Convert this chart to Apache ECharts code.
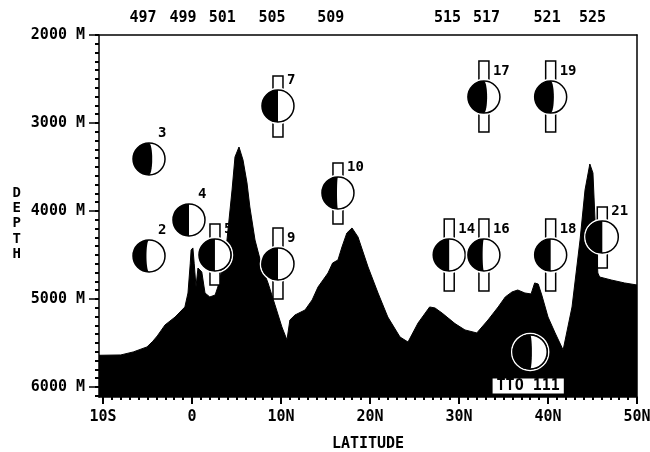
<!DOCTYPE html>
<html>
<head>
<meta charset="utf-8">
<script src="https://cdn.jsdelivr.net/npm/echarts@6/dist/echarts.min.js"></script>
<style>
html, body { margin: 0; padding: 0; background: #fff; }
#chart { width: 650px; height: 452px; }
</style>
</head>
<body>
<div id="chart"></div>
<script>
// bathymetry profile (latitude, depth in m)
var profileLat = [-10.45, -8.0, -6.6, -5.06, -4.4, -3.9, -3.03, -1.9, -0.8, -0.45, -0.2, -0.1, 0.1, 0.25, 0.45, 0.67, 1.1, 1.46, 2.0, 2.6, 2.9, 3.3, 3.93, 4.5, 4.83, 5.28, 5.73, 6.18, 6.5, 7.08, 7.87, 8.54, 9.3, 10.1, 10.67, 11.0, 11.57, 12.7, 13.5, 14.16, 15.28, 15.8, 16.4, 16.85, 17.4, 17.98, 18.65, 19.78, 20.9, 22.0, 23.37, 24.27, 25.4, 26.7, 27.3, 28.1, 29.55, 30.67, 32.0, 33.26, 34.4, 35.2, 35.96, 36.6, 37.4, 38.1, 38.5, 38.9, 39.3, 40.0, 40.8, 41.7, 42.7, 43.6, 44.16, 44.7, 45.05, 45.3, 45.6, 45.8, 47.1, 48.6, 50];
var profileDepth = [5640, 5636, 5602, 5545, 5480, 5420, 5295, 5205, 5091, 4932, 4600, 4443, 4420, 4600, 4864, 4648, 4693, 4932, 4977, 4955, 4864, 4700, 4330, 3761, 3386, 3273, 3420, 3682, 3955, 4330, 4636, 4818, 5060, 5318, 5466, 5239, 5182, 5125, 5011, 4864, 4705, 4591, 4557, 4409, 4250, 4193, 4295, 4636, 4932, 5205, 5432, 5489, 5273, 5091, 5102, 5160, 5280, 5352, 5386, 5239, 5091, 4977, 4920, 4898, 4932, 4943, 4818, 4830, 4955, 5205, 5386, 5580, 5091, 4330, 3761, 3466, 3568, 4136, 4705, 4750, 4784, 4818, 4841];

// station numbers along the top
var stationLat = [-5.5, -1.0, 3.4, 9.0, 15.6, 28.7, 33.1, 39.9, 45.0];
var stationName = ['497', '499', '501', '505', '509', '515', '517', '521', '525'];

// samples: circle at depth, black fraction, vertical bar range
var sampleName = ['2', '3', '4', '5', '7', '9', '10', '14', '16', '17', '18', '19', '21'];
var sampleLat = [-4.83, -4.83, -0.34, 2.58, 9.66, 9.66, 16.4, 28.9, 32.8, 32.8, 40.3, 40.3, 46.1];
var sampleDepth = [4511, 3409, 4102, 4500, 2807, 4602, 3795, 4500, 4500, 2705, 4500, 2705, 4295];
var sampleBlack = [0.42, 0.6, 0.5, 0.5, 0.5, 0.5, 0.47, 0.5, 0.46, 0.6, 0.5, 0.6, 0.5];
var barTop = [null, null, null, 4148, 2466, 4193, 3455, 4091, 4091, 2295, 4091, 2295, 3955];
var barBottom = [null, null, null, 4841, 3159, 5000, 4148, 4909, 4909, 3102, 4909, 3102, 4648];

// TTO 111 reference point
var ttoName = 'TTO 111';
var ttoLat = 38.0;
var ttoDepth = 5602;
var ttoBlack = 0.55;

// axis ticks
var latTicks = [-10, 0, 10, 20, 30, 40, 50];
var latLabels = ['10S', '0', '10N', '20N', '30N', '40N', '50N'];
var depthTicks = [2000, 3000, 4000, 5000, 6000];

var FONT = "'DejaVu Sans Mono', monospace";

var latMinor = [];
for (var d = -10; d <= 50; d++) latMinor.push(d);
var depthMinor = [];
for (var m = 2000; m <= 6100; m += 100) depthMinor.push(m);

function moonPoints(cx, cy, r, f) {
    // left side black, terminator an ellipse half
    var k = 2 * f - 1;
    var pts = [];
    var n = 40;
    for (var j = 0; j <= n; j++) {
        var a = -Math.PI / 2 - Math.PI * j / n;
        pts.push([cx + r * Math.cos(a), cy + r * Math.sin(a)]);
    }
    for (var j2 = 0; j2 <= n; j2++) {
        var b = Math.PI / 2 - Math.PI * j2 / n;
        pts.push([cx + k * r * Math.cos(b), cy + r * Math.sin(b)]);
    }
    return pts;
}

function moonShapes(cx, cy, r, f) {
    return [
        { type: 'circle', shape: { cx: cx, cy: cy, r: r + 1.5 }, style: { fill: 'none', stroke: '#fff', lineWidth: 1.5 } },
        { type: 'circle', shape: { cx: cx, cy: cy, r: r }, style: { fill: '#fff' } },
        { type: 'polygon', shape: { points: moonPoints(cx, cy, r, f) }, style: { fill: '#000' } },
        { type: 'circle', shape: { cx: cx, cy: cy, r: r }, style: { fill: 'none', stroke: '#000', lineWidth: 1.5 } }
    ];
}

function renderSample(params, api) {
    var i = api.value(2);
    var c = api.coord([api.value(0), api.value(1)]);
    var r = 16;
    var kids = [];
    if (barTop[i] != null) {
        var t = api.coord([api.value(0), barTop[i]]);
        var b = api.coord([api.value(0), barBottom[i]]);
        kids.push({
            type: 'rect',
            shape: { x: c[0] - 5, y: t[1], width: 10, height: b[1] - t[1] },
            style: { fill: '#fff', stroke: '#000', lineWidth: 1.5 }
        });
    }
    kids = kids.concat(moonShapes(c[0], c[1], r, sampleBlack[i]));
    kids.push({
        type: 'text',
        x: c[0] + 9,
        y: c[1] - 26,
        style: {
            text: sampleName[i],
            fill: '#000',
            font: 'bold 14px ' + FONT,
            align: 'left',
            verticalAlign: 'middle'
        }
    });
    return { type: 'group', children: kids };
}

function renderTto(params, api) {
    var c = api.coord([api.value(0), api.value(1)]);
    var kids = moonShapes(c[0], c[1], 17, ttoBlack);
    kids.push({
        type: 'text',
        x: c[0] - 2,
        y: c[1] + 34,
        style: {
            text: ttoName,
            fill: '#000',
            font: 'bold 15px ' + FONT,
            align: 'center',
            verticalAlign: 'middle',
            backgroundColor: '#fff',
            padding: [0, 4, 0, 4]
        }
    });
    return { type: 'group', children: kids };
}

var profileData = profileLat.map(function (v, i) { return [v, profileDepth[i]]; });
var sampleData = sampleLat.map(function (v, i) { return [v, sampleDepth[i], i]; });

var chart = echarts.init(document.getElementById('chart'));
var axisLine = { show: true, onZero: false, lineStyle: { color: '#000', width: 1.5 } };
var noLine = { show: false, onZero: false };
var labelStyle = { color: '#000', fontFamily: FONT, fontSize: 15, fontWeight: 'bold' };

var option = {
    animation: false,
    backgroundColor: '#fff',
    grid: { left: 99, right: 13, top: 35, bottom: 55, containLabel: false, outerBoundsMode: 'none' },
    xAxis: [
        {
            type: 'value', position: 'bottom', min: -10.45, max: 50,
            axisLine: axisLine,
            splitLine: { show: false },
            axisTick: { show: true, customValues: latTicks, length: 7, lineStyle: { color: '#000', width: 2 } },
            axisLabel: Object.assign({
                customValues: latTicks, margin: 13,
                formatter: function (v) { return latLabels[latTicks.indexOf(v)]; }
            }, labelStyle),
            name: 'LATITUDE', nameLocation: 'middle', nameGap: 40,
            nameTextStyle: labelStyle
        },
        {
            type: 'value', position: 'bottom', min: -10.45, max: 50,
            axisLine: noLine,
            splitLine: { show: false },
            axisTick: { show: true, customValues: latMinor, length: 3, lineStyle: { color: '#000', width: 2 } },
            axisLabel: { show: false }
        },
        {
            type: 'value', position: 'top', min: -10.45, max: 50,
            axisLine: axisLine,
            splitLine: { show: false },
            axisTick: { show: false },
            axisLabel: Object.assign({
                customValues: stationLat, margin: 9,
                formatter: function (v) { return stationName[stationLat.indexOf(v)]; }
            }, labelStyle)
        }
    ],
    yAxis: [
        {
            type: 'value', position: 'left', inverse: true, min: 2000, max: 6114,
            axisLine: axisLine,
            splitLine: { show: false },
            axisTick: { show: true, customValues: depthTicks, length: 10, lineStyle: { color: '#000', width: 1.5 } },
            axisLabel: Object.assign({
                customValues: depthTicks, margin: 14,
                formatter: function (v) { return v + ' M'; }
            }, labelStyle),
            name: '\nD\nE\nP\nT\nH', nameLocation: 'middle', nameRotate: 0, nameGap: 78,
            nameTextStyle: { color: '#000', fontFamily: FONT, fontWeight: 'bold', fontSize: 14, lineHeight: 15.4 }
        },
        {
            type: 'value', position: 'left', inverse: true, min: 2000, max: 6114,
            axisLine: noLine,
            splitLine: { show: false },
            axisTick: { show: true, customValues: depthMinor, length: 4, lineStyle: { color: '#000', width: 2 } },
            axisLabel: { show: false }
        },
        {
            type: 'value', position: 'right', inverse: true, min: 2000, max: 6114,
            axisLine: axisLine,
            splitLine: { show: false },
            axisTick: { show: false },
            axisLabel: { show: false }
        }
    ],
    series: [
        {
            type: 'line',
            xAxisIndex: 0, yAxisIndex: 0,
            data: profileData,
            showSymbol: false,
            lineStyle: { color: '#000', width: 1 },
            areaStyle: { color: '#000', opacity: 1, origin: 'end' },
            z: 1
        },
        {
            type: 'custom',
            xAxisIndex: 0, yAxisIndex: 0,
            data: sampleData,
            renderItem: renderSample,
            z: 5
        },
        {
            type: 'custom',
            xAxisIndex: 0, yAxisIndex: 0,
            data: [[ttoLat, ttoDepth]],
            renderItem: renderTto,
            z: 5
        }
    ]
};
chart.setOption(option);
</script>
</body>
</html>
